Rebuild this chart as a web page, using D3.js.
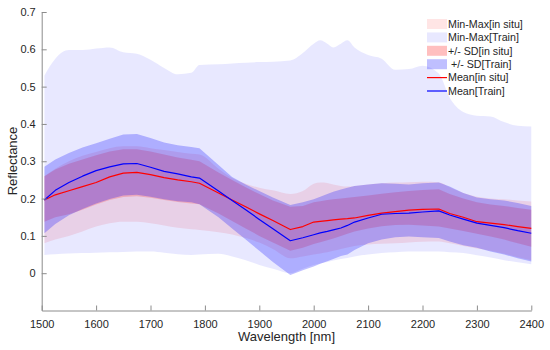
<!DOCTYPE html>
<html>
<head>
<meta charset="utf-8">
<script src="https://cdn.jsdelivr.net/npm/d3@7"></script>
<style>
html,body{margin:0;padding:0;background:#fff;}
svg{display:block;font-family:"Liberation Sans",Arial,sans-serif;}
</style>
</head>
<body>
<svg id="chart" width="550" height="350"></svg>
<script>
const wavelengths = [1505,1525,1550,1575,1600,1625,1650,1675,1700,1725,1750,1775,1790,1825,1850,1875,1900,1925,1957,1980,2000,2012,2025,2036,2050,2062,2075,2100,2125,2150,2175,2200,2230,2250,2275,2300,2325,2350,2375,2400];

const minMaxTrainHi = [0.53,0.575,0.598,0.598,0.602,0.605,0.592,0.588,0.572,0.55,0.533,0.537,0.558,0.56,0.562,0.564,0.566,0.567,0.57,0.59,0.615,0.624,0.615,0.605,0.615,0.624,0.605,0.585,0.575,0.545,0.547,0.556,0.535,0.47,0.432,0.422,0.42,0.405,0.395,0.393];
const minMaxTrainLo = [0.049,0.051,0.053,0.054,0.055,0.056,0.057,0.058,0.058,0.055,0.051,0.049,0.05,0.052,0.045,0.035,0.022,0.012,0.0,0.012,0.022,0.026,0.03,0.034,0.038,0.041,0.045,0.05,0.054,0.056,0.058,0.058,0.058,0.056,0.054,0.048,0.042,0.035,0.029,0.024];

const minMaxSituHi = [0.26,0.28,0.30,0.315,0.325,0.335,0.34,0.34,0.335,0.33,0.325,0.32,0.318,0.28,0.255,0.24,0.229,0.222,0.212,0.22,0.24,0.243,0.242,0.238,0.234,0.232,0.234,0.238,0.241,0.243,0.244,0.245,0.244,0.23,0.215,0.205,0.2,0.198,0.195,0.192];
const minMaxSituLo = [0.08,0.09,0.1,0.112,0.125,0.134,0.138,0.138,0.134,0.128,0.122,0.118,0.116,0.11,0.104,0.094,0.082,0.065,0.04,0.045,0.05,0.053,0.056,0.06,0.065,0.069,0.073,0.077,0.079,0.08,0.082,0.084,0.085,0.08,0.073,0.066,0.06,0.052,0.043,0.035];

const sdTrainHi = [0.285,0.305,0.322,0.337,0.348,0.36,0.372,0.373,0.362,0.35,0.343,0.338,0.335,0.29,0.258,0.238,0.22,0.203,0.183,0.19,0.198,0.205,0.212,0.218,0.224,0.229,0.234,0.238,0.241,0.24,0.238,0.241,0.243,0.232,0.215,0.203,0.198,0.195,0.188,0.18];
const sdTrainLo = [0.107,0.132,0.155,0.172,0.187,0.199,0.208,0.21,0.205,0.198,0.193,0.19,0.185,0.15,0.12,0.09,0.06,0.03,-0.005,0.008,0.018,0.025,0.032,0.038,0.046,0.05,0.062,0.08,0.09,0.096,0.098,0.096,0.094,0.085,0.075,0.068,0.058,0.05,0.04,0.031];

const sdSituHi = [0.26,0.278,0.293,0.305,0.316,0.326,0.332,0.332,0.326,0.318,0.31,0.304,0.3,0.27,0.25,0.23,0.212,0.195,0.178,0.18,0.19,0.193,0.196,0.198,0.2,0.202,0.204,0.208,0.213,0.217,0.22,0.223,0.225,0.212,0.2,0.19,0.184,0.18,0.175,0.17];
const sdSituLo = [0.138,0.15,0.158,0.17,0.184,0.196,0.204,0.206,0.202,0.196,0.191,0.187,0.185,0.16,0.14,0.12,0.1,0.082,0.06,0.068,0.078,0.083,0.088,0.093,0.1,0.106,0.112,0.12,0.126,0.129,0.13,0.128,0.125,0.12,0.113,0.106,0.098,0.09,0.08,0.071];

const meanSitu = [0.196,0.21,0.221,0.232,0.243,0.258,0.268,0.27,0.264,0.256,0.25,0.245,0.241,0.215,0.196,0.178,0.159,0.141,0.117,0.125,0.137,0.139,0.141,0.143,0.145,0.146,0.148,0.155,0.161,0.165,0.169,0.171,0.172,0.16,0.15,0.138,0.134,0.13,0.125,0.12];
const meanTrain = [0.196,0.222,0.243,0.26,0.275,0.285,0.293,0.294,0.284,0.273,0.266,0.258,0.255,0.22,0.195,0.17,0.144,0.119,0.087,0.095,0.103,0.108,0.112,0.116,0.121,0.128,0.137,0.148,0.158,0.16,0.161,0.164,0.167,0.156,0.145,0.134,0.128,0.122,0.114,0.107];

const xTicks = [1500,1600,1700,1800,1900,2000,2100,2200,2300,2400];
const yTicks = [0,0.1,0.2,0.3,0.4,0.5,0.6,0.7];
const legendLabels = ["Min-Max[in situ]","Min-Max[Train]","+/- SD[in situ]"," +/- SD[Train]","Mean[in situ]","Mean[Train]"];

const svg = d3.select("#chart");
const x = d3.scaleLinear().domain([1500,2400]).range([41.7,531.3]);
const y = d3.scaleLinear().domain([-0.1,0.7]).range([310.5,12]);

const idx = d3.range(wavelengths.length);
function band(lo, hi, fill, op, curve){
  const a = d3.area().x(i=>x(wavelengths[i])).y0(i=>y(lo[i])).y1(i=>y(hi[i])).curve(curve||d3.curveLinear);
  svg.append("path").attr("d", a(idx)).attr("fill", fill).attr("fill-opacity", op).attr("stroke","none");
}
const C_MMS = ["#ff0000",0.1], C_MMT=["#0000ff",0.09], C_SDS=["#ff0000",0.19], C_SDT=["#0000ff",0.25];
band(minMaxSituLo, minMaxSituHi, C_MMS[0], C_MMS[1], d3.curveMonotoneX);
band(minMaxTrainLo, minMaxTrainHi, C_MMT[0], C_MMT[1], d3.curveMonotoneX);
band(sdSituLo, sdSituHi, C_SDS[0], C_SDS[1]);
band(sdTrainLo, sdTrainHi, C_SDT[0], C_SDT[1]);

function line(vals, color){
  const l = d3.line().x(i=>x(wavelengths[i])).y(i=>y(vals[i]));
  svg.append("path").attr("d", l(idx)).attr("fill","none").attr("stroke",color).attr("stroke-width",1.2).attr("stroke-linejoin","round");
}
line(meanSitu, "#ff0000");
line(meanTrain, "#0000ff");

// axes
const axisColor = "#8c8c8c", textColor = "#262626";
const gx = svg.append("g").attr("transform",`translate(0,${y(-0.1)})`)
  .call(d3.axisBottom(x).tickValues(xTicks).tickSizeInner(-5).tickSizeOuter(0).tickPadding(10).tickFormat(d3.format("d")));
const gy = svg.append("g").attr("transform",`translate(${x(1500)},0)`)
  .call(d3.axisLeft(y).tickValues(yTicks).tickSizeInner(-5).tickSizeOuter(0).tickPadding(6).tickFormat(d=> d===0?"0":d3.format(".1f")(d)));
[gx,gy].forEach(g=>{
  g.select(".domain").attr("stroke",axisColor).attr("stroke-width",1);
  g.selectAll(".tick line").attr("stroke",axisColor);
  g.selectAll(".tick text").attr("fill",textColor).attr("font-size","11px").attr("font-family","Liberation Sans, Arial, sans-serif");
});

svg.append("text").attr("x", 286.5).attr("y", 341).attr("text-anchor","middle")
  .attr("font-size","13px").attr("fill",textColor).text("Wavelength [nm]");
svg.append("text").attr("transform","translate(16.5,161) rotate(-90)").attr("text-anchor","middle")
  .attr("font-size","13px").attr("fill",textColor).text("Reflectance");

// legend
const lg = svg.append("g");
const swatch = [C_MMS,C_MMT,C_SDS,C_SDT];
const rowY = [24,37.4,50.8,64.2,77.6,91];
legendLabels.forEach((t,i)=>{
  if(i<4){
    lg.append("rect").attr("x",427).attr("y",rowY[i]-5).attr("width",20).attr("height",10)
      .attr("fill",swatch[i][0]).attr("fill-opacity",i===2?0.25:swatch[i][1]);
  } else {
    lg.append("line").attr("x1",427).attr("x2",447).attr("y1",rowY[i]).attr("y2",rowY[i])
      .attr("stroke", i===4?"#ff0000":"#0000ff").attr("stroke-width",1.2);
  }
  lg.append("text").attr("x",448).attr("y",rowY[i]).attr("dy","0.36em").attr("font-size","10.7px")
    .attr("fill",textColor).attr("xml:space","preserve").style("white-space","pre").text(t);
});
</script>
</body>
</html>
